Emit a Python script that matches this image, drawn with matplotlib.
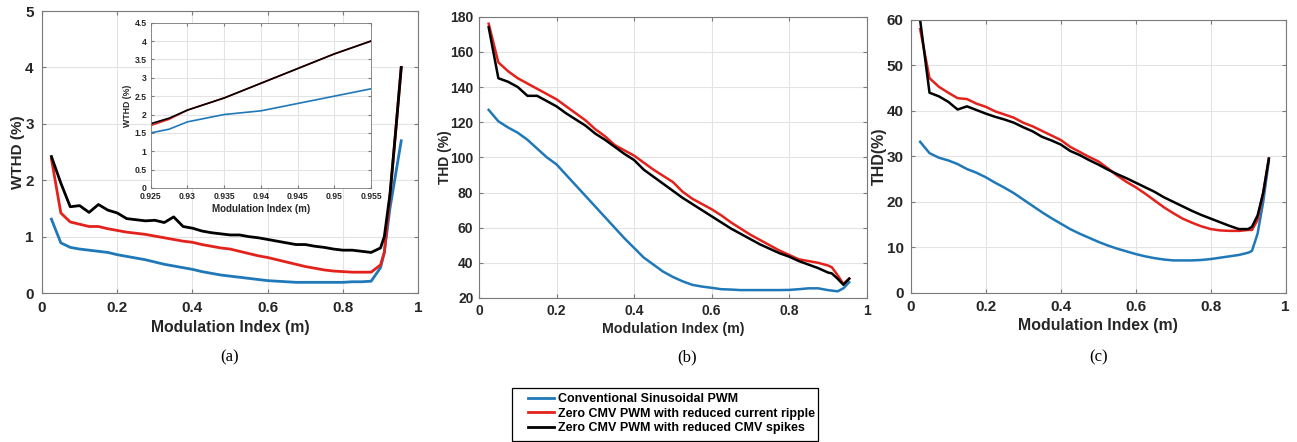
import numpy as np
import matplotlib.pyplot as plt
from matplotlib.lines import Line2D
from matplotlib.patches import Rectangle

# modulation index samples
m = [0.025, 0.05, 0.075, 0.1, 0.125, 0.15, 0.175, 0.2, 0.225, 0.25, 0.275, 0.3,
     0.325, 0.35, 0.375, 0.4, 0.425, 0.45, 0.475, 0.5, 0.525, 0.55, 0.575, 0.6,
     0.625, 0.65, 0.675, 0.7, 0.725, 0.75, 0.775, 0.8, 0.825, 0.85, 0.875, 0.9,
     0.91, 0.925, 0.94, 0.955]

# (a) WTHD (%)
wthd_spwm = [1.31, 0.89, 0.81, 0.78, 0.76, 0.74, 0.72, 0.68, 0.65, 0.62, 0.59, 0.55,
             0.51, 0.48, 0.45, 0.42, 0.38, 0.35, 0.32, 0.30, 0.28, 0.26, 0.24, 0.22,
             0.21, 0.20, 0.19, 0.19, 0.19, 0.19, 0.19, 0.19, 0.20, 0.20, 0.21, 0.45,
             0.72, 1.5, 2.1, 2.7]
wthd_ripple = [2.38, 1.42, 1.26, 1.22, 1.18, 1.18, 1.14, 1.11, 1.08, 1.06, 1.04, 1.01,
               0.98, 0.95, 0.92, 0.90, 0.86, 0.83, 0.80, 0.78, 0.74, 0.70, 0.66, 0.63,
               0.59, 0.55, 0.51, 0.47, 0.44, 0.41, 0.39, 0.38, 0.37, 0.37, 0.37, 0.50,
               0.72, 1.7, 2.85, 4.0]
wthd_spikes = [2.42, 1.95, 1.53, 1.55, 1.43, 1.57, 1.47, 1.42, 1.32, 1.30, 1.28, 1.29,
               1.25, 1.35, 1.18, 1.15, 1.10, 1.07, 1.05, 1.03, 1.03, 1.00, 0.98, 0.95,
               0.92, 0.89, 0.86, 0.86, 0.83, 0.81, 0.78, 0.76, 0.76, 0.74, 0.72, 0.80,
               1.0, 1.75, 2.85, 4.0]

# inset of (a)
m_zoom = [0.925, 0.9275, 0.93, 0.935, 0.94, 0.945, 0.95, 0.955]
zoom_spwm = [1.5, 1.6, 1.8, 2.0, 2.1, 2.3, 2.5, 2.7]
zoom_ripple = [1.7, 1.87, 2.12, 2.45, 2.85, 3.25, 3.65, 4.0]
zoom_spikes = [1.75, 1.9, 2.12, 2.45, 2.85, 3.25, 3.65, 4.0]

# (b) THD (%)
thd_b_spwm = [127, 120.5, 117, 114, 110, 105, 100, 96, 90, 84, 78, 72,
              66, 60, 54, 48.5, 43, 39, 35, 32, 29.5, 27.5, 26.5, 25.8,
              25, 24.8, 24.5, 24.5, 24.5, 24.5, 24.5, 24.6, 25, 25.5, 25.5, 24.5,
              24.2, 23.8, 25.5, 29]
thd_b_ripple = [176, 154, 149, 145, 142, 139, 136, 133, 129, 125, 121, 116,
                112, 107, 104, 101, 97, 93, 89.5, 86, 80.5, 76.5, 73.5, 70.5,
                67, 63, 59.5, 56, 53, 50, 47, 44.5, 42, 41, 40, 38.5,
                37.5, 33, 28, 31]
thd_b_spikes = [174, 145, 143, 140, 135, 135, 132, 129, 125, 121.5, 118, 113.5,
                110, 106, 102, 98.5, 93, 89, 85, 81, 77, 73.5, 70, 66.5,
                63, 59.5, 56.5, 53.5, 50.5, 48, 45.5, 43.5, 41, 39, 37, 34.5,
                34, 31, 27.5, 31]

# (c) THD (%)
thd_c_spwm = [33.2, 30.7, 29.7, 29.1, 28.3, 27.2, 26.4, 25.4, 24.2, 23.1, 21.9, 20.5,
              19.1, 17.7, 16.4, 15.2, 14.0, 13.0, 12.1, 11.2, 10.4, 9.7, 9.1, 8.5,
              8.0, 7.6, 7.3, 7.1, 7.1, 7.1, 7.2, 7.4, 7.7, 8.0, 8.3, 8.8,
              9.2, 13, 20, 29]
thd_c_ripple = [58, 47.2, 45.3, 44, 42.8, 42.6, 41.6, 40.9, 39.9, 39.2, 38.5, 37.4,
                36.6, 35.6, 34.6, 33.6, 32.1, 31, 29.9, 28.9, 27.4, 25.8, 24.4, 23.2,
                21.8, 20.3, 18.8, 17.5, 16.3, 15.4, 14.6, 14.0, 13.7, 13.6, 13.6, 13.8,
                13.8, 16, 22, 29.5]
thd_c_spikes = [60, 44, 43.2, 42, 40.3, 41, 40.2, 39.4, 38.7, 38.1, 37.4, 36.4,
                35.5, 34.3, 33.5, 32.6, 31.2, 30.3, 29.2, 28.2, 27.1, 26.1, 25.2, 24.2,
                23.2, 22.2, 21.0, 20.0, 19.0, 18.0, 17.1, 16.3, 15.5, 14.7, 14.0, 14.0,
                14.5, 17, 22, 29.5]

labels = ['Conventional Sinusoidal PWM',
          'Zero CMV PWM with reduced current ripple',
          'Zero CMV PWM with reduced CMV spikes']
colors = ['#1f78b8', '#e3221c', '#000000']

plt.rcParams['font.family'] = ['Liberation Sans', 'DejaVu Sans']
plt.rcParams['font.weight'] = 'bold'

fig = plt.figure(figsize=(12.97, 4.42), dpi=100)
W, H = 1297, 442


def style(ax, fs=10.5, lw=0.8, pad=6):
    ax.grid(True, color='#e3e3e3', linewidth=0.8)
    ax.set_axisbelow(True)
    for s in ax.spines.values():
        s.set_color('#7a7a7a')
        s.set_linewidth(lw)
    ax.tick_params(direction='in', top=True, right=True, length=3, pad=pad,
                   colors='#7a7a7a', labelcolor='#262626', labelsize=fs)
    for t in ax.get_xticklabels() + ax.get_yticklabels():
        t.set_fontweight('bold')


lab = dict(fontweight='bold', color='#262626')

# panel (a)
ax_a = fig.add_axes([0.0324, 0.337, 0.290, 0.638])
for y, c in zip([wthd_spwm, wthd_ripple, wthd_spikes], colors):
    ax_a.plot(m, y, color=c, lw=2)
ax_a.set_xlim(0, 1)
ax_a.set_ylim(0, 5)
ax_a.set_xticks([0, 0.2, 0.4, 0.6, 0.8, 1])
ax_a.set_xticklabels(['0', '0.2', '0.4', '0.6', '0.8', '1'])
ax_a.set_yticks([0, 1, 2, 3, 4, 5])
style(ax_a, fs=11)
ax_a.set_xlabel('Modulation Index (m)', fontsize=11.3, labelpad=3, **lab)
ax_a.set_ylabel('WTHD (%)', fontsize=11, labelpad=0, **lab)

# inset
ax_i = fig.add_axes([0.1162, 0.5747, 0.1699, 0.374])
for y, c in zip([zoom_spwm, zoom_ripple, zoom_spikes], colors):
    ax_i.plot(m_zoom, y, color=c, lw=1.2)
ax_i.set_xlim(0.925, 0.955)
ax_i.set_ylim(0, 4.5)
ax_i.set_xticks([0.925, 0.93, 0.935, 0.94, 0.945, 0.95, 0.955])
ax_i.set_xticklabels(['0.925', '0.93', '0.935', '0.94', '0.945', '0.95', '0.955'])
ax_i.set_yticks(np.arange(0, 4.6, 0.5))
ax_i.set_yticklabels(['0', '0.5', '1', '1.5', '2', '2.5', '3', '3.5', '4', '4.5'])
style(ax_i, fs=6.2, lw=0.6, pad=3)
ax_i.tick_params(length=2)
ax_i.set_xlabel('Modulation Index (m)', fontsize=7, labelpad=2, **lab)
ax_i.set_ylabel('WTHD (%)', fontsize=6.3, labelpad=2, **lab)

# panel (b)
ax_b = fig.add_axes([0.3693, 0.3258, 0.2989, 0.6364])
for y, c in zip([thd_b_spwm, thd_b_ripple, thd_b_spikes], colors):
    ax_b.plot(m, y, color=c, lw=1.8)
ax_b.set_xlim(0, 1)
ax_b.set_ylim(20, 180)
ax_b.set_xticks([0, 0.2, 0.4, 0.6, 0.8, 1])
ax_b.set_xticklabels(['0', '0.2', '0.4', '0.6', '0.8', '1'])
ax_b.set_yticks(np.arange(20, 181, 20))
style(ax_b, fs=10, pad=4)
ax_b.set_xlabel('Modulation Index (m)', fontsize=10.2, labelpad=3, **lab)
ax_b.set_ylabel('THD (%)', fontsize=10, labelpad=-1, **lab)

# panel (c)
ax_c = fig.add_axes([0.7022, 0.3378, 0.2891, 0.617])
for y, c in zip([thd_c_spwm, thd_c_ripple, thd_c_spikes], colors):
    ax_c.plot(m, y, color=c, lw=1.8)
ax_c.set_xlim(0, 1)
ax_c.set_ylim(0, 60)
ax_c.set_xticks([0, 0.2, 0.4, 0.6, 0.8, 1])
ax_c.set_xticklabels(['0', '0.2', '0.4', '0.6', '0.8', '1'])
ax_c.set_yticks(np.arange(0, 61, 10))
style(ax_c, fs=11, pad=5)
ax_c.set_xlabel('Modulation Index (m)', fontsize=11.4, labelpad=3, **lab)
ax_c.set_ylabel('THD(%)', fontsize=11.5, labelpad=0, **lab)

# sub-figure captions
for xc, t in zip([230, 687, 1099], ['(a)', '(b)', '(c)']):
    fig.text(xc / W, 1 - 357 / H, t, ha='center', va='center',
             fontsize=12, family='Liberation Serif', fontweight='normal')

# legend, frame drawn separately
fig.patches.append(Rectangle((512 / W, 1 - 441 / H), 306 / W, 53 / H,
                             transform=fig.transFigure, fill=False,
                             edgecolor='black', linewidth=0.9))
handles = [Line2D([], [], color=c, lw=2) for c in colors]
leg = fig.legend(handles, labels, loc='upper center', bbox_to_anchor=(0.5174, 1 - 393 / H),
                 fontsize=9, frameon=False, handlelength=2.1,
                 handletextpad=0.3, borderpad=0, labelspacing=0.2, borderaxespad=0)
for t in leg.get_texts():
    t.set_fontweight('bold')

fig.savefig('out.png', dpi=100)
